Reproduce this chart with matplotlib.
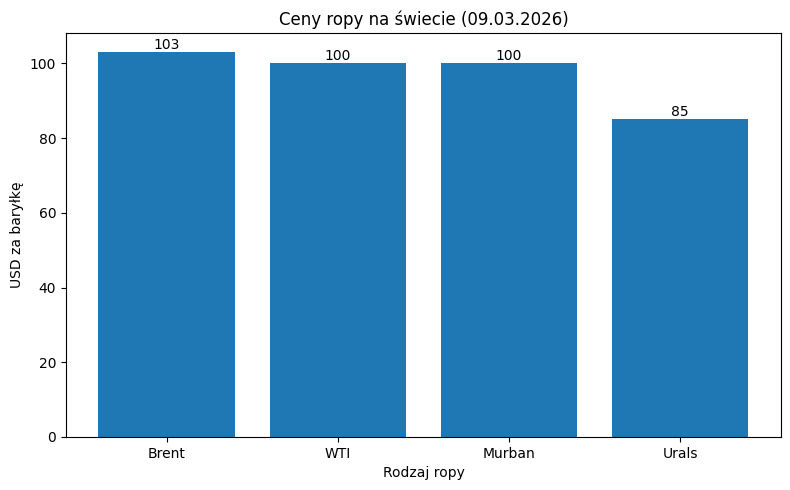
import matplotlib.pyplot as plt

# Oil prices
oil_types = ['Brent', 'WTI', 'Murban', 'Urals']
prices_usd = [103, 100, 100, 85]

fig, ax = plt.subplots(figsize=(7.9, 4.9), dpi=100)

bars = ax.bar(oil_types, prices_usd, color='#1f77b4')
ax.bar_label(bars, labels=[str(p) for p in prices_usd])

ax.set_title('Ceny ropy na świecie (09.03.2026)')
ax.set_xlabel('Rodzaj ropy')
ax.set_ylabel('USD za baryłkę')

# match the reference's axes box
fig.subplots_adjust(left=0.0835, right=0.9886, top=0.9327, bottom=0.1082)
fig.savefig('out.png', dpi=100, facecolor='white')
plt.close()
